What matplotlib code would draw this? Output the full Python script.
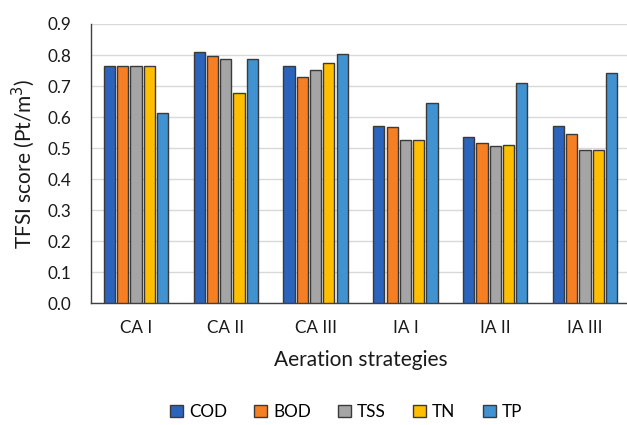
import matplotlib
matplotlib.use("Agg")
import matplotlib.pyplot as plt
import numpy as np

plt.rcParams['font.family'] = ['Lato', 'DejaVu Sans']

categories = ["CA I", "CA II", "CA III", "IA I", "IA II", "IA III"]
series_names = ["COD", "BOD", "TSS", "TN", "TP"]
cod = [0.766, 0.810, 0.764, 0.572, 0.535, 0.572]
bod = [0.766, 0.796, 0.730, 0.569, 0.518, 0.547]
tss = [0.766, 0.786, 0.751, 0.525, 0.508, 0.493]
tn  = [0.766, 0.679, 0.775, 0.525, 0.510, 0.493]
tp  = [0.612, 0.788, 0.803, 0.645, 0.709, 0.743]
yticks = [0.0, 0.1, 0.2, 0.3, 0.4, 0.5, 0.6, 0.7, 0.8, 0.9]

colors = ["#2A64BC", "#F57F22", "#A5A5A5", "#FFBE00", "#4192D1"]
values = [cod, bod, tss, tn, tp]

fig = plt.figure(figsize=(6.27, 4.25), dpi=100)
ax = fig.add_axes([91/627, 121.7/425, 539/627, 279.3/425])

x = np.arange(len(categories))
step = 13.3 / 90
width = 11.2 / 90
for i, (name, vals, c) in enumerate(zip(series_names, values, colors)):
    ax.bar(x + (i - 2) * step, vals, width, color=c, edgecolor="#3a3a3a",
           linewidth=1.0, label=name, zorder=3)

ax.set_xlim(-0.5, len(categories) - 0.5)
ax.set_ylim(0, 0.9)
ax.set_yticks(yticks)
ax.set_yticklabels([f"{v:.1f}" for v in yticks])
ax.set_xticks(x)
ax.set_xticklabels(categories)
ax.grid(axis="y", color="#d9d9d9", linewidth=1.0, zorder=0)
ax.tick_params(axis="both", length=0, labelsize=12.3, colors="#1a1a1a", pad=8)
ax.tick_params(axis="y", pad=14)
ax.tick_params(axis="x", pad=12)
for s in ["top", "right"]:
    ax.spines[s].set_visible(False)
ax.spines["left"].set_color("#404040")
ax.spines["bottom"].set_color("#404040")
ax.spines["left"].set_linewidth(1.0)
ax.spines["bottom"].set_linewidth(1.0)

ax.set_xlabel("Aeration strategies", fontsize=15, color="#1a1a1a", labelpad=10)
ax.set_ylabel("TFSI score (Pt/m$^3$)", fontsize=15, color="#1a1a1a", labelpad=8)

handles, labels = ax.get_legend_handles_labels()
fig.legend(handles, labels, loc="center", bbox_to_anchor=(346/627, 13/425),
           ncol=5, frameon=False, fontsize=12.3, handlelength=0.75,
           handleheight=0.75, handletextpad=0.35, columnspacing=1.6)

fig.savefig("out.png", dpi=100)
